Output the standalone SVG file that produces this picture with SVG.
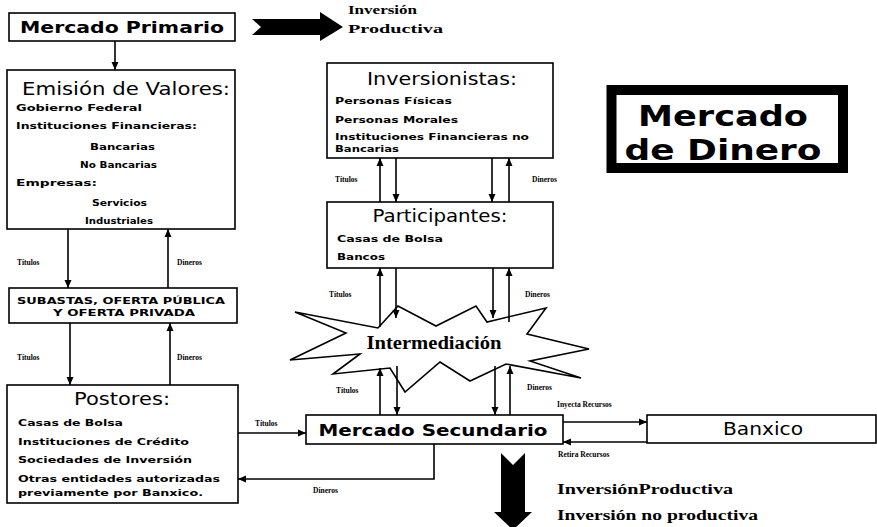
<svg xmlns="http://www.w3.org/2000/svg" width="877" height="527" viewBox="0 0 877 527">
<defs>
<style>
.box{fill:#fff;stroke:#000;stroke-width:1.6}
.ln{fill:none;stroke:#000;stroke-width:1.6}
.t{font-family:"DejaVu Sans",Verdana,sans-serif;fill:#000}
.title{font-size:17px}
.tb{font-size:16px;font-weight:bold}
.it{font-size:8.5px;font-weight:bold}
.lbl{font-family:"Liberation Serif","Times New Roman",serif;font-size:7.5px;font-weight:bold;fill:#000}
.sr{font-family:"Liberation Serif","Times New Roman",serif;font-weight:bold;fill:#000}
</style>
<marker id="ah" markerUnits="userSpaceOnUse" markerWidth="8" markerHeight="8" viewBox="0 0 8 8" refX="8" refY="4" orient="auto">
<path d="M0,0.5 L8,4 L0,7.5 Z" fill="#000"/>
</marker>
</defs>
<rect width="877" height="527" fill="#fff"/>

<g id="mercado-primario">
<rect class="box" x="9" y="13" width="226" height="28"/>
<text class="t tb" x="122" y="33" text-anchor="middle" textLength="204" lengthAdjust="spacingAndGlyphs">Mercado Primario</text>
</g>

<g id="inversion-productiva-top">
<path d="M252,19 L320,19 L320,12 L343,27 L320,41 L320,35 L252,35 L261,27 Z" fill="#000"/>
<text class="sr" x="348" y="14" font-size="13" textLength="69" lengthAdjust="spacingAndGlyphs">Inversión</text>
<text class="sr" x="348" y="33" font-size="13" textLength="95" lengthAdjust="spacingAndGlyphs">Productiva</text>
</g>

<g id="emision">
<rect class="box" x="7" y="70" width="228" height="159"/>
<text class="t title" x="22" y="95" textLength="208" lengthAdjust="spacingAndGlyphs">Emisión de Valores:</text>
<text class="t it" x="16" y="111" textLength="126" lengthAdjust="spacingAndGlyphs">Gobierno Federal</text>
<text class="t it" x="16" y="129" textLength="181" lengthAdjust="spacingAndGlyphs">Instituciones Financieras:</text>
<text class="t it" x="90" y="150" textLength="65" lengthAdjust="spacingAndGlyphs">Bancarias</text>
<text class="t it" x="80" y="168" textLength="77" lengthAdjust="spacingAndGlyphs">No Bancarias</text>
<text class="t it" x="16" y="186" textLength="81" lengthAdjust="spacingAndGlyphs">Empresas:</text>
<text class="t it" x="92" y="206" textLength="55" lengthAdjust="spacingAndGlyphs">Servicios</text>
<text class="t it" x="85" y="224" textLength="68" lengthAdjust="spacingAndGlyphs">Industriales</text>
</g>

<g id="subastas">
<rect class="box" x="9" y="288" width="228" height="35"/>
<text class="t it" x="121" y="304" text-anchor="middle" textLength="208" lengthAdjust="spacingAndGlyphs">SUBASTAS, OFERTA PÚBLICA</text>
<text class="t it" x="124" y="316" text-anchor="middle" textLength="142" lengthAdjust="spacingAndGlyphs">Y OFERTA PRIVADA</text>
</g>

<g id="postores">
<rect class="box" x="7" y="385" width="231" height="118"/>
<text class="t title" x="122" y="405" text-anchor="middle" textLength="96" lengthAdjust="spacingAndGlyphs">Postores:</text>
<text class="t it" x="18" y="426" textLength="105" lengthAdjust="spacingAndGlyphs">Casas de Bolsa</text>
<text class="t it" x="18" y="445" textLength="171" lengthAdjust="spacingAndGlyphs">Instituciones de Crédito</text>
<text class="t it" x="18" y="463" textLength="174" lengthAdjust="spacingAndGlyphs">Sociedades de Inversión</text>
<text class="t it" x="18" y="482" textLength="202" lengthAdjust="spacingAndGlyphs">Otras entidades autorizadas</text>
<text class="t it" x="18" y="496" textLength="185" lengthAdjust="spacingAndGlyphs">previamente por Banxico.</text>
</g>

<g id="inversionistas">
<rect class="box" x="327" y="63" width="226" height="95"/>
<text class="t title" x="442" y="85" text-anchor="middle" textLength="150" lengthAdjust="spacingAndGlyphs">Inversionistas:</text>
<text class="t it" x="335" y="104" textLength="117" lengthAdjust="spacingAndGlyphs">Personas Físicas</text>
<text class="t it" x="335" y="123" textLength="123" lengthAdjust="spacingAndGlyphs">Personas Morales</text>
<text class="t it" x="335" y="140" textLength="194" lengthAdjust="spacingAndGlyphs">Instituciones Financieras no</text>
<text class="t it" x="335" y="152" textLength="64" lengthAdjust="spacingAndGlyphs">Bancarias</text>
</g>

<g id="participantes">
<rect class="box" x="327" y="202" width="226" height="66"/>
<text class="t title" x="440" y="222" text-anchor="middle" textLength="135" lengthAdjust="spacingAndGlyphs">Participantes:</text>
<text class="t it" x="337" y="242" textLength="106" lengthAdjust="spacingAndGlyphs">Casas de Bolsa</text>
<text class="t it" x="337" y="260" textLength="48" lengthAdjust="spacingAndGlyphs">Bancos</text>
</g>

<g id="intermediacion">
<polygon points="295,312 378,328 398,306 436,326 476,306 487,322 546,308 527,334 589,349 530,361 581,378 506,364 470,381 440,362 405,392 390,368 333,374 360,354 290,360 346,333" fill="#fff" stroke="#000" stroke-width="1.6" stroke-linejoin="miter"/>
<text class="sr" x="434" y="349" font-size="18" text-anchor="middle" textLength="135" lengthAdjust="spacingAndGlyphs">Intermediación</text>
</g>

<g id="mercado-secundario">
<rect class="box" x="306" y="415" width="257" height="29"/>
<text class="t tb" x="433" y="436" text-anchor="middle" textLength="229" lengthAdjust="spacingAndGlyphs">Mercado Secundario</text>
</g>

<g id="banxico">
<rect class="box" x="647" y="415" width="229" height="28"/>
<text class="t title" x="763" y="435" text-anchor="middle" textLength="80" lengthAdjust="spacingAndGlyphs">Banxico</text>
</g>

<g id="mercado-de-dinero">
<rect x="611.5" y="90" width="231.5" height="78" fill="#fff" stroke="#000" stroke-width="10"/>
<text class="t" x="723" y="126" font-size="29" font-weight="bold" text-anchor="middle" textLength="170" lengthAdjust="spacingAndGlyphs">Mercado</text>
<text class="t" x="723" y="160" font-size="29" font-weight="bold" text-anchor="middle" textLength="197" lengthAdjust="spacingAndGlyphs">de Dinero</text>
</g>

<g id="inversion-bottom">
<path d="M501,453 L513,465 L525,453 L525,512 L532,512 L513,530 L494,512 L501,512 Z" fill="#000"/>
<text class="sr" x="557" y="494" font-size="14" textLength="176" lengthAdjust="spacingAndGlyphs">InversiónProductiva</text>
<text class="sr" x="557" y="520" font-size="14" textLength="201" lengthAdjust="spacingAndGlyphs">Inversión no productiva</text>
</g>

<g id="connectors">
<line class="ln" x1="115" y1="41" x2="115" y2="70" marker-end="url(#ah)"/>
<line class="ln" x1="68" y1="229" x2="68" y2="288" marker-end="url(#ah)"/>
<line class="ln" x1="168" y1="288" x2="168" y2="229" marker-end="url(#ah)"/>
<line class="ln" x1="70" y1="323" x2="70" y2="385" marker-end="url(#ah)"/>
<line class="ln" x1="170" y1="385" x2="170" y2="323" marker-end="url(#ah)"/>
<text class="lbl" x="17" y="265">Títulos</text>
<text class="lbl" x="177" y="265">Dineros</text>
<text class="lbl" x="17" y="360">Títulos</text>
<text class="lbl" x="177" y="360">Dineros</text>

<line class="ln" x1="380" y1="202" x2="380" y2="158" marker-end="url(#ah)"/>
<line class="ln" x1="396" y1="158" x2="396" y2="202" marker-end="url(#ah)"/>
<line class="ln" x1="492" y1="158" x2="492" y2="202" marker-end="url(#ah)"/>
<line class="ln" x1="509" y1="202" x2="509" y2="158" marker-end="url(#ah)"/>
<text class="lbl" x="335" y="182">Títulos</text>
<text class="lbl" x="532" y="182">Dineros</text>

<line class="ln" x1="380" y1="327" x2="380" y2="268" marker-end="url(#ah)"/>
<line class="ln" x1="396" y1="268" x2="396" y2="318" marker-end="url(#ah)"/>
<line class="ln" x1="493" y1="268" x2="493" y2="318" marker-end="url(#ah)"/>
<line class="ln" x1="509" y1="322" x2="509" y2="268" marker-end="url(#ah)"/>
<text class="lbl" x="329" y="297">Títulos</text>
<text class="lbl" x="525" y="297">Dineros</text>

<line class="ln" x1="380" y1="415" x2="380" y2="368" marker-end="url(#ah)"/>
<line class="ln" x1="397" y1="366" x2="397" y2="415" marker-end="url(#ah)"/>
<line class="ln" x1="495" y1="366" x2="495" y2="415" marker-end="url(#ah)"/>
<line class="ln" x1="510" y1="415" x2="510" y2="366" marker-end="url(#ah)"/>
<text class="lbl" x="336" y="393">Títulos</text>
<text class="lbl" x="527" y="390">Dineros</text>

<line class="ln" x1="238" y1="433" x2="306" y2="433" marker-end="url(#ah)"/>
<text class="lbl" x="255" y="426">Títulos</text>
<polyline class="ln" points="434,444 434,479 238,479" marker-end="url(#ah)"/>
<text class="lbl" x="313" y="493">Dineros</text>

<line class="ln" x1="563" y1="422" x2="647" y2="422" marker-end="url(#ah)"/>
<text class="lbl" x="557" y="407">Inyecta Recursos</text>
<line class="ln" x1="647" y1="442" x2="563" y2="442" marker-end="url(#ah)"/>
<text class="lbl" x="558" y="457">Retira Recursos</text>
</g>
</svg>
